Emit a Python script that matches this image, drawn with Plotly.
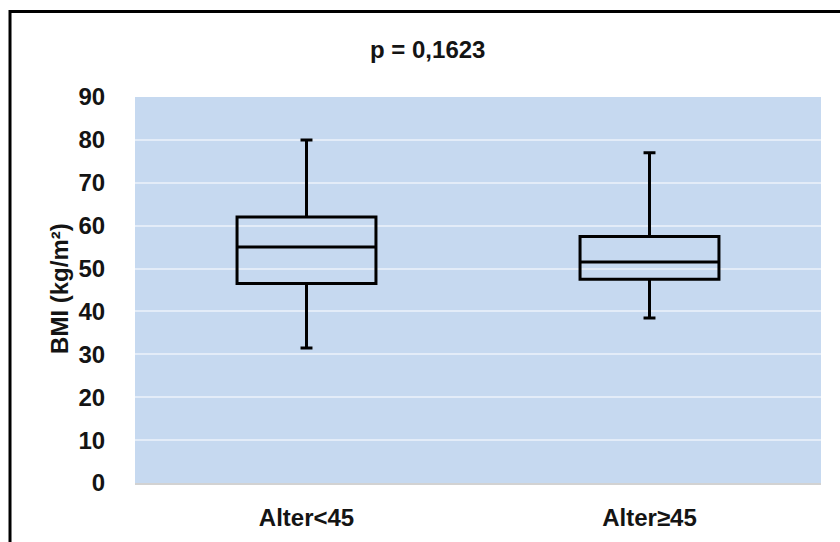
import plotly.graph_objects as go

# BMI distribution by age group (five-number summaries)
groups = ["Alter<45", "Alter≥45"]
lower_whisker = [31.5, 38.5]
q1_values = [46.5, 47.5]
medians = [55.0, 51.5]
q3_values = [62.0, 57.5]
upper_whisker = [80.0, 77.0]

y_ticks = [0, 10, 20, 30, 40, 50, 60, 70, 80, 90]
p_label = "p = 0,1623"
y_title = "BMI (kg/m²)"

FONT = "Liberation Sans"
TEXT = "#141414"
SIZE = 24

fig = go.Figure()
fig.add_trace(go.Box(
    x=groups,
    lowerfence=lower_whisker,
    q1=q1_values,
    median=medians,
    q3=q3_values,
    upperfence=upper_whisker,
    fillcolor="rgba(0,0,0,0)",
    line=dict(color="black", width=3),
    whiskerwidth=0.086,
    boxpoints=False,
    showlegend=False,
    hoverinfo="skip",
))

fig.update_layout(
    width=840,
    height=542,
    margin=dict(l=135, r=19, t=97, b=59),
    paper_bgcolor="white",
    plot_bgcolor="#c6d9f0",
    boxgap=0.595,
    boxgroupgap=0,
    font=dict(family=FONT, size=SIZE, color=TEXT),
    xaxis=dict(
        type="category",
        automargin=False,
        showgrid=False,
        showline=True,
        linecolor="#d2d2d2",
        linewidth=2,
        ticks="outside",
        ticklen=12,
        tickcolor="rgba(0,0,0,0)",
        tickfont=dict(family=FONT, size=SIZE, color=TEXT, weight="bold"),
    ),
    yaxis=dict(
        range=[0, 90],
        automargin=False,
        tickvals=y_ticks,
        ticktext=[str(v) for v in y_ticks],
        showgrid=True,
        gridcolor="#e3ecf8",
        gridwidth=2,
        zeroline=False,
        showline=False,
        ticks="outside",
        ticklen=24,
        tickcolor="rgba(0,0,0,0)",
        tickfont=dict(family=FONT, size=SIZE, color=TEXT, weight="bold"),
    ),
    annotations=[
        dict(text=p_label, xref="paper", yref="paper", x=0.427, y=1.122,
             xanchor="center", yanchor="middle", showarrow=False,
             font=dict(family=FONT, size=SIZE, color=TEXT, weight="bold")),
        dict(text=y_title, xref="paper", yref="paper", x=-0.111, y=0.505,
             xanchor="center", yanchor="middle", textangle=-90, showarrow=False,
             font=dict(family=FONT, size=SIZE, color=TEXT, weight="bold")),
    ],
    shapes=[
        dict(type="rect", xref="paper", yref="paper",
             x0=-0.1822, x1=1.2, y0=-0.3, y1=1.2215,
             line=dict(color="black", width=3), fillcolor="rgba(0,0,0,0)",
             layer="below"),
    ],
)

fig.write_html("out.html")
